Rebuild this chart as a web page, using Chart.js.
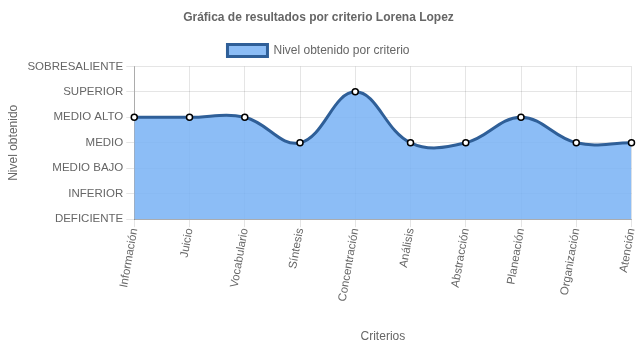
<!DOCTYPE html>
<html>
<head>
<meta charset="utf-8">
<script src="https://cdn.jsdelivr.net/npm/chart.js@4/dist/chart.umd.min.js"></script>
<style>
  html, body { margin: 0; padding: 0; background: #fff; }
  #wrap { width: 637px; height: 348px; }
</style>
</head>
<body>
<div id="wrap"><canvas id="resultChart"></canvas></div>
<script>
const criterios = ["Información", "Juicio", "Vocabulario", "Síntesis", "Concentración",
  "Análisis", "Abstracción", "Planeación", "Organización", "Atención"];
const niveles = ["DEFICIENTE", "INFERIOR", "MEDIO BAJO", "MEDIO", "MEDIO ALTO", "SUPERIOR", "SOBRESALIENTE"];
const nivelObtenido = [4, 4, 4, 3, 5, 3, 3, 4, 3, 3];

Chart.defaults.font.family = "'Liberation Sans', Arial, Helvetica, sans-serif";
Chart.defaults.font.size = 12;
Chart.defaults.color = "#666";

const ctx = document.getElementById("resultChart").getContext("2d");

new Chart(ctx, {
  type: "line",
  data: {
    labels: criterios,
    datasets: [{
      label: "Nivel obtenido por criterio",
      data: nivelObtenido,
      fill: true,
      tension: 0.4,
      borderColor: "#2f5f98",
      borderWidth: 3,
      backgroundColor: "rgba(120, 178, 245, 0.85)",
      pointRadius: 3,
      pointBorderWidth: 1.5,
      pointBackgroundColor: "#fff",
      pointBorderColor: "#000"
    }]
  },
  options: {
    responsive: true,
    maintainAspectRatio: false,
    animation: false,
    layout: { padding: { left: 2, right: 2, top: 0, bottom: 0 } },
    plugins: {
      title: {
        display: true,
        text: "Gráfica de resultados por criterio Lorena Lopez",
        font: { size: 12, weight: "bold" },
        padding: { top: 10, bottom: 10 }
      },
      legend: {
        display: true,
        labels: { boxWidth: 40, boxHeight: 12, padding: 10 }
      },
      tooltip: { enabled: false }
    },
    scales: {
      x: {
        afterFit: (scale) => { scale.paddingRight = 0; },
        title: { display: true, text: "Criterios", padding: { top: 27, bottom: 4 } },
        ticks: { minRotation: 80, maxRotation: 80, autoSkip: false, font: { size: 11.5 }, padding: 0 },
        grid: { color: "rgba(0,0,0,0.1)", tickLength: 8 },
        border: { color: "rgba(0,0,0,0.25)" }
      },
      y: {
        min: 0,
        max: 6,
        title: { display: true, text: "Nivel obtenido" },
        ticks: {
          stepSize: 1,
          font: { size: 11.5 },
          callback: function(value) { return niveles[value]; }
        },
        grid: { color: "rgba(0,0,0,0.1)", tickLength: 8 },
        border: { color: "rgba(0,0,0,0.25)" }
      }
    }
  }
});
</script>
</body>
</html>
